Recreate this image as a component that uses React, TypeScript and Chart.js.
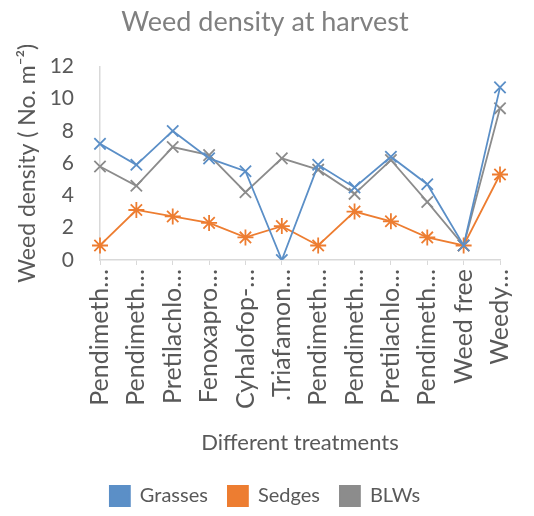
import React, { useEffect, useRef } from "react";
import { Chart, registerables } from "chart.js";

Chart.register(...registerables);

const categories = [
  "Pendimeth…",
  "Pendimeth…",
  "Pretilachlo…",
  "Fenoxapro…",
  "Cyhalofop-…",
  ".Triafamon…",
  "Pendimeth…",
  "Pendimeth…",
  "Pretilachlo…",
  "Pendimeth…",
  "Weed free",
  "Weedy…",
];
const grasses = [7.2, 5.9, 8.0, 6.3, 5.5, 0.0, 5.9, 4.5, 6.4, 4.7, 0.9, 10.7];
const sedges = [0.9, 3.1, 2.7, 2.3, 1.4, 2.1, 0.9, 3.0, 2.4, 1.4, 0.9, 5.3];
const blws = [5.8, 4.6, 7.0, 6.5, 4.2, 6.3, 5.6, 4.1, 6.2, 3.6, 0.9, 9.4];
const seriesNames = ["Grasses", "Sedges", "BLWs"];
const yTicks = [0, 2, 4, 6, 8, 10, 12];

const FONT = "Lato, 'Open Sans', sans-serif";

export default function App() {
  const ref = useRef<HTMLCanvasElement | null>(null);
  useEffect(() => {
    if (!ref.current) return;
    const mk = (label: string, data: number[], color: string, style: any) => ({
      label,
      data,
      borderColor: color,
      backgroundColor: color,
      borderWidth: 1.8,
      pointStyle: style,
      pointRadius: 8,
      pointHoverRadius: 8,
      pointBorderWidth: 1.8,
      pointBorderColor: color,
      fill: false,
      tension: 0,
    });
    const chart = new Chart(ref.current, {
      type: "line",
      data: {
        labels: categories,
        datasets: [
          mk(seriesNames[0], grasses, "#5b8fc7", "crossRot"),
          mk(seriesNames[1], sedges, "#ed7d31", "star"),
          mk(seriesNames[2], blws, "#8c8c8c", "crossRot"),
        ],
      },
      options: {
        responsive: false,
        animation: false,
        layout: { padding: { left: 20, right: 24, top: 0, bottom: 0 } },
        plugins: {
          title: {
            display: true,
            text: "Weed density at harvest",
            color: "#808080",
            font: { family: FONT, size: 27, weight: "normal" },
            padding: { top: 6, bottom: 28 },
          },
          legend: {
            position: "bottom",
            labels: {
              color: "#595959",
              font: { family: FONT, size: 20 },
              boxWidth: 20,
              boxHeight: 20,
              padding: 20,
            },
          },
          tooltip: { enabled: false },
        },
        scales: {
          x: {
            type: "category",
            offset: false,
            afterFit: (scale: any) => {
              scale.height = 206;
            },
            grid: { display: true, drawOnChartArea: false, drawTicks: true, tickLength: 5, color: "#d9d9d9" },
            border: { color: "#d9d9d9", width: 1.5 },
            ticks: {
              autoSkip: false,
              maxRotation: 90,
              minRotation: 90,
              crossAlign: "center",
              color: "#595959",
              font: { family: FONT, size: 25 },
              padding: 4,
            },
            title: {
              display: true,
              text: "Different treatments",
              color: "#595959",
              font: { family: FONT, size: 22 },
              padding: { top: 10, bottom: 10 },
            },
          },
          y: {
            min: 0,
            max: 12,
            afterBuildTicks: (axis: any) => {
              axis.ticks = yTicks.map((v) => ({ value: v }));
            },
            afterFit: (scale: any) => {
              scale.width = 80;
            },
            grid: { display: false },
            border: { color: "#d9d9d9", width: 1.5 },
            ticks: {
              color: "#595959",
              font: { family: FONT, size: 21 },
              padding: 18,
            },
            title: {
              display: true,
              text: "Weed density ( No. m⁻²)",
              color: "#595959",
              font: { family: FONT, size: 23 },
              padding: { top: -6, bottom: 0 },
            },
          },
        },
      },
    });
    return () => chart.destroy();
  }, []);
  return (
    <div style={{ position: "absolute", left: 0, top: 0, width: 534, height: 516, background: "#fff" }}>
      <canvas ref={ref} width={534} height={516} style={{ width: 534, height: 516 }} />
    </div>
  );
}
